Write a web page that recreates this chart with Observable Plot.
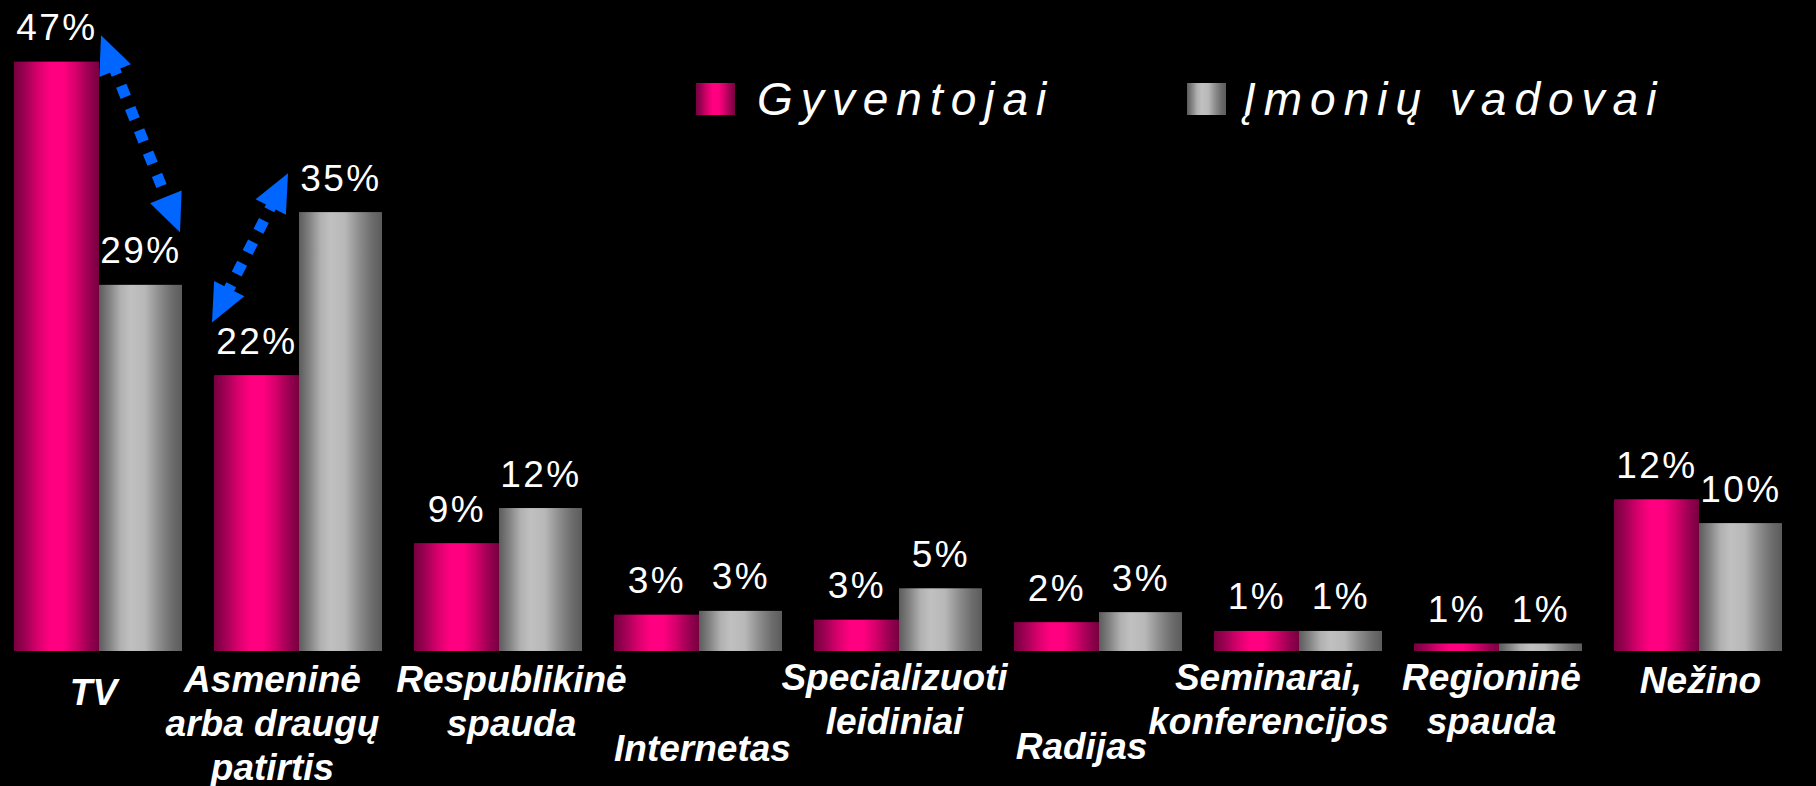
<!DOCTYPE html>
<html>
<head>
<meta charset="utf-8">
<script src="https://cdn.jsdelivr.net/npm/d3@7"></script>
<script src="https://cdn.jsdelivr.net/npm/@observablehq/plot@0.6"></script>
<style>
  html, body { margin: 0; padding: 0; background: #000; }
  #chart svg { display: block; }
</style>
</head>
<body>
<div id="chart"></div>
<script>
// ---------- DATA ----------
const categories = [
  "TV",
  "Asmeninė\narba draugų\npatirtis",
  "Respublikinė\nspauda",
  "Internetas",
  "Specializuoti\nleidiniai",
  "Radijas",
  "Seminarai,\nkonferencijos",
  "Regioninė\nspauda",
  "Nežino"
];
const seriesNames = ["Gyventojai", "Įmonių vadovai"];
const gyventojai = [47.0, 22.0, 8.6, 2.9, 2.5, 2.3, 1.6, 0.6, 12.1];
const vadovai    = [29.2, 35.0, 11.4, 3.2, 5.0, 3.1, 1.6, 0.6, 10.2];
const gyventojaiLabels = ["47%", "22%", "9%", "3%", "3%", "2%", "1%", "1%", "12%"];
const vadovaiLabels    = ["29%", "35%", "12%", "3%", "5%", "3%", "1%", "1%", "10%"];

// double-headed dotted arrows: endpoints anchored to a bar's value (+ padding, in %)
const arrows = [
  {cat: 0, from: {series: 0, pos: 0.435, pad: 2.1}, to: {series: 1, pos: 0.83, pad: 4.2}},
  {cat: 1, from: {series: 0, pos: -0.01, pad: 4.2}, to: {series: 1, pos: 0.37, pad: 3.1}}
];

// ---------- LAYOUT ----------
const GROUP = 0.84, PINK = 0.425;
const FONT = "'Liberation Sans', Arial, Helvetica, sans-serif";
const catLayout = [
  {dx: -5,  dy: 22.5},
  {dx: -26, dy: 9.5},
  {dx: 13,  dy: 9.5},
  {dx: 4,   dy: 78.5},
  {dx: -4,  dy: 7.5},
  {dx: -17, dy: 76.5},
  {dx: -30, dy: 7.5},
  {dx: -7,  dy: 7.5},
  {dx: 2,   dy: 10.5}
];

const series = [gyventojai, vadovai];
const bars = categories.flatMap((c, i) => [
  {i, s: 0, x1: i, x2: i + PINK, v: gyventojai[i], label: gyventojaiLabels[i]},
  {i, s: 1, x1: i + PINK, x2: i + GROUP, v: vadovai[i], label: vadovaiLabels[i]}
]);

const valueText = {
  x: d => (d.x1 + d.x2) / 2, y: "v", text: "label",
  dy: -22, lineAnchor: "bottom", fill: "#fff", fontSize: 37, fontFamily: FONT
};

const plot = Plot.plot({
  width: 1816, height: 786,
  marginLeft: 14, marginRight: 2, marginTop: 24, marginBottom: 135,
  x: {domain: [0, 9], axis: null},
  y: {domain: [0, 50], axis: null},
  style: {background: "#000", color: "#fff", fontFamily: FONT, overflow: "visible"},
  marks: [
    Plot.rectY(bars.filter(d => d.s === 0), {x1: "x1", x2: "x2", y: "v", fill: "url(#gPink)"}),
    Plot.rectY(bars.filter(d => d.s === 1), {x1: "x1", x2: "x2", y: "v", fill: "url(#gGray)"}),
    Plot.text(bars, valueText),
    ...categories.map((c, i) => Plot.text([c], {
      x: i + GROUP / 2, y: 0, text: d => d,
      dx: catLayout[i].dx, dy: catLayout[i].dy,
      lineAnchor: "top", lineHeight: 1.19,
      fontSize: 37, fontWeight: "bold", fontStyle: "italic", fontFamily: FONT, fill: "#fff"
    }))
  ]
});

const svg = d3.select(plot);

// gradients
const defs = svg.insert("defs", ":first-child");
function grad(id, stops) {
  const g = defs.append("linearGradient").attr("id", id)
    .attr("x1", "0%").attr("x2", "100%").attr("y1", "0%").attr("y2", "0%");
  stops.forEach(([o, c]) => g.append("stop").attr("offset", o).attr("stop-color", c));
}
grad("gPink", [["0%", "#78003f"], ["12%", "#9a0052"], ["28%", "#d8006c"], ["42%", "#ff0080"],
               ["58%", "#ff0080"], ["72%", "#d8006c"], ["88%", "#9a0052"], ["100%", "#78003f"]]);
grad("gGray", [["0%", "#5c5c5c"], ["12%", "#808080"], ["26%", "#b0b0b0"], ["38%", "#c0c0c0"],
               ["55%", "#b8b8b8"], ["72%", "#8e8e8e"], ["88%", "#6c6c6c"], ["100%", "#5c5c5c"]]);

// letter spacing for value labels
svg.selectAll("text").filter(function () { return /%$/.test(this.textContent); })
  .attr("letter-spacing", 2.5);

// dotted double-headed arrows (positioned via the plot's own scales)
const xs = plot.scale("x"), ys = plot.scale("y");
const ann = svg.insert("g", "g").attr("class", "arrows");
const BLUE = "#0066ff", HL = 38, HW = 17;
arrows.forEach(a => {
  const p1 = [xs.apply(a.cat + a.from.pos), ys.apply(series[a.from.series][a.cat] + a.from.pad)];
  const p2 = [xs.apply(a.cat + a.to.pos), ys.apply(series[a.to.series][a.cat] + a.to.pad)];
  const dx = p2[0] - p1[0], dy = p2[1] - p1[1], len = Math.hypot(dx, dy);
  const u = [dx / len, dy / len], n = [-u[1], u[0]];
  const s1 = [p1[0] + u[0] * HL * 0.8, p1[1] + u[1] * HL * 0.8];
  const s2 = [p2[0] - u[0] * HL * 0.8, p2[1] - u[1] * HL * 0.8];
  ann.append("line").attr("x1", s1[0]).attr("y1", s1[1]).attr("x2", s2[0]).attr("y2", s2[1])
    .attr("stroke", BLUE).attr("stroke-width", 11).attr("stroke-dasharray", "12 12");
  const head = (tip, dir) => {
    const b = [tip[0] - dir[0] * HL, tip[1] - dir[1] * HL];
    return [tip, [b[0] + n[0] * HW, b[1] + n[1] * HW], [b[0] - n[0] * HW, b[1] - n[1] * HW]];
  };
  [head(p2, u), head(p1, [-u[0], -u[1]])].forEach(pts =>
    ann.append("polygon").attr("points", pts.map(p => p.join(",")).join(" ")).attr("fill", BLUE));
});

// legend
const leg = svg.append("g").attr("class", "legend").attr("text-anchor", "start");
const legendItems = [
  {name: seriesNames[0], fill: "url(#gPink)", sx: 696, tx: 757},
  {name: seriesNames[1], fill: "url(#gGray)", sx: 1187, tx: 1243}
];
legendItems.forEach(d => {
  leg.append("rect").attr("x", d.sx).attr("y", 83).attr("width", 39).attr("height", 32).attr("fill", d.fill);
  leg.append("text").attr("x", d.tx).attr("y", 115).text(d.name)
    .attr("text-anchor", "start")
    .attr("fill", "#fff").attr("font-size", 46).attr("font-style", "italic")
    .attr("font-family", FONT).attr("letter-spacing", 8);
});

document.getElementById("chart").appendChild(plot);
</script>
</body>
</html>
